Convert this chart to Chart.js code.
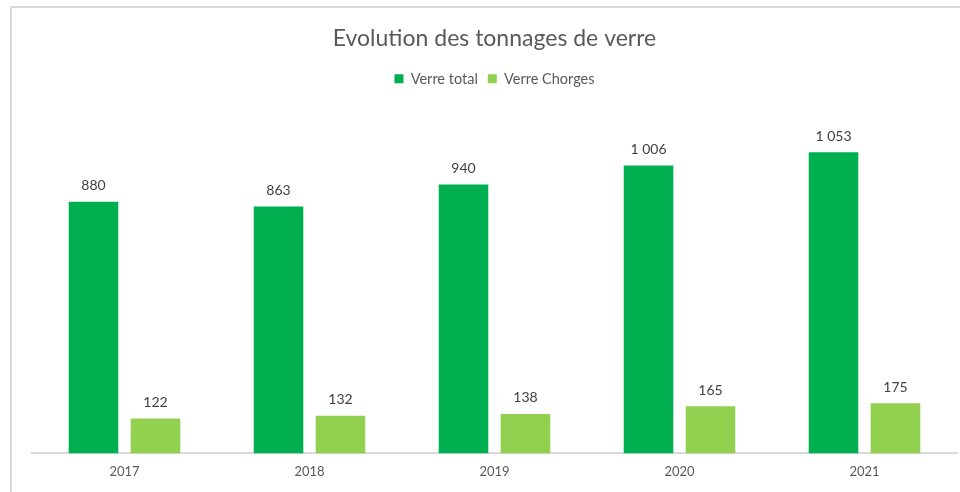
<!DOCTYPE html>
<html>
<head>
<meta charset="utf-8">
<script src="https://cdn.jsdelivr.net/npm/chart.js@4.4.0/dist/chart.umd.min.js"></script>
<style>
  html, body { margin: 0; padding: 0; background: #fff; }
  #wrap { position: relative; width: 960px; height: 492px; overflow: hidden; }
  #frame { position: absolute; left: 10px; top: 6px; width: 1000px; height: 600px;
           border-left: 2px solid #d9d9d9; border-top: 2px solid #d9d9d9; }
  #graph { position: absolute; left: 0; top: 0; }
</style>
</head>
<body>
<div id="wrap">
  <div id="frame"></div>
  <canvas id="graph" width="960" height="494"></canvas>
</div>
<script>
const annees = ['2017', '2018', '2019', '2020', '2021'];
const verreTotal = [880, 863, 940, 1006, 1053];
const verreChorges = [122, 132, 138, 165, 175];

const FONT = 'Lato, "Open Sans", sans-serif';

// format "1 006"
function formatFr(v) {
  return String(v).replace(/\B(?=(\d{3})+(?!\d))/g, ' ');
}

// etiquettes au dessus des barres
const etiquettes = {
  id: 'etiquettes',
  afterDatasetsDraw(chart) {
    const ctx = chart.ctx;
    ctx.save();
    ctx.font = '14px ' + FONT;
    ctx.fillStyle = '#404040';
    ctx.textAlign = 'center';
    ctx.textBaseline = 'bottom';
    chart.data.datasets.forEach((ds, i) => {
      chart.getDatasetMeta(i).data.forEach((bar, j) => {
        ctx.fillText(formatFr(ds.data[j]), bar.x, bar.y - 9);
      });
    });
    ctx.restore();
  }
};

// un peu plus d'espace sous la legende
const margeLegende = {
  id: 'margeLegende',
  beforeInit(chart) {
    const fit = chart.legend.fit;
    chart.legend.fit = function () {
      fit.bind(chart.legend)();
      this.height += 14;
    };
  }
};

Chart.defaults.font.family = FONT;
Chart.defaults.color = '#595959';

new Chart(document.getElementById('graph'), {
  type: 'bar',
  data: {
    labels: annees,
    datasets: [{
      label: 'Verre total',
      data: verreTotal,
      backgroundColor: '#00B050'
    }, {
      label: 'Verre Chorges',
      data: verreChorges,
      backgroundColor: '#92D050'
    }]
  },
  options: {
    responsive: false,
    animation: false,
    layout: { padding: { left: 32, right: 3, top: 25, bottom: 11 } },
    datasets: {
      bar: { categoryPercentage: 0.67, barPercentage: 0.8 }
    },
    scales: {
      x: {
        grid: { display: false },
        border: { color: '#d9d9d9', width: 2 },
        ticks: { font: { size: 13 }, color: '#595959', padding: 3 }
      },
      y: {
        display: false,
        min: 0,
        max: 1200
      }
    },
    plugins: {
      title: {
        display: true,
        text: 'Evolution des tonnages de verre',
        color: '#595959',
        font: { size: 23, weight: 'normal' },
        padding: { top: 0, bottom: 9 }
      },
      legend: {
        position: 'top',
        labels: {
          boxWidth: 9,
          boxHeight: 9,
          font: { size: 14.5 },
          color: '#595959',
          padding: 10
        }
      },
      tooltip: { enabled: false }
    }
  },
  plugins: [etiquettes, margeLegende]
});
</script>
</body>
</html>
